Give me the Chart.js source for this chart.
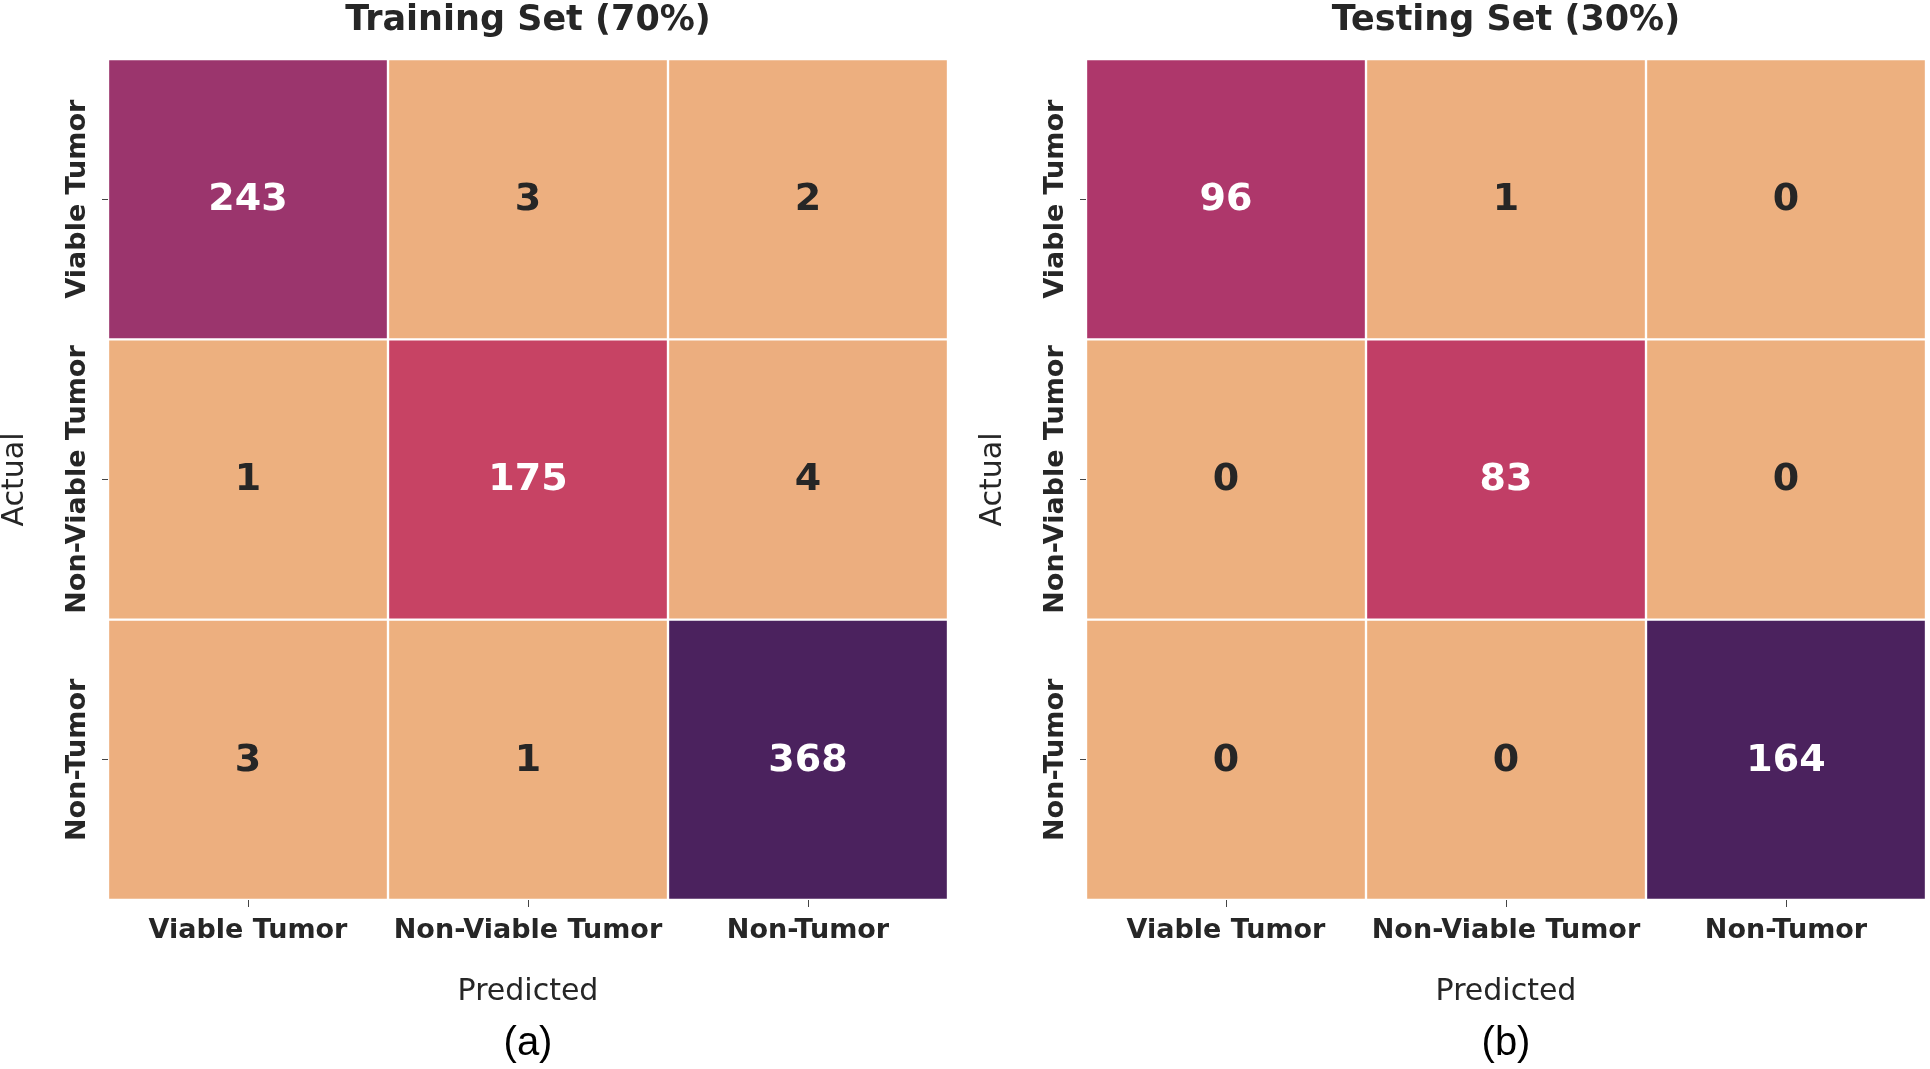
<!DOCTYPE html>
<html>
<head>
<meta charset="utf-8">
<script src="https://cdn.jsdelivr.net/npm/chart.js@4.4.0/dist/chart.umd.min.js"></script>
<style>
body { margin: 0; background: #fff; width: 1930px; height: 1069px; overflow: hidden; position: relative; }
canvas { position: absolute; top: 0; }
#trainChart { left: 0; }
#testChart { left: 978px; }
</style>
</head>
<body>
<canvas id="trainChart" width="952" height="1069"></canvas>
<canvas id="testChart" width="952" height="1069"></canvas>
<script>
// classes (same for actual rows and predicted columns)
var classes = ["Viable Tumor", "Non-Viable Tumor", "Non-Tumor"];

// confusion matrices, one row per actual class
var trainCounts = [
    [243, 3, 2],
    [1, 175, 4],
    [3, 1, 368]
];
var testCounts = [
    [96, 1, 0],
    [0, 83, 0],
    [0, 0, 164]
];

var trainTitle = "Training Set (70%)";
var testTitle = "Testing Set (30%)";

// seaborn "flare"-like colour map, light orange -> dark purple
var flareStops = [
    [0, [237, 176, 127]],
    [0.474, [199, 67, 100]],
    [0.506, [193, 62, 102]],
    [0.585, [174, 55, 107]],
    [0.659, [155, 53, 109]],
    [1, [75, 34, 94]]
];

function flare(t){
    for (var i = 1; i < flareStops.length; i++) {
        if (t <= flareStops[i][0]) {
            var a = flareStops[i-1], b = flareStops[i];
            var f = (t - a[0]) / (b[0] - a[0]);
            var c = a[1].map(function(v, k){ return Math.round(v + (b[1][k] - v) * f); });
            return c;
        }
    }
    return flareStops[flareStops.length-1][1];
}

function luminance(c){
    var l = c.map(function(v){
        v = v / 255;
        return v <= 0.03928 ? v / 12.92 : Math.pow((v + 0.055) / 1.055, 2.4);
    });
    return 0.2126 * l[0] + 0.7152 * l[1] + 0.0722 * l[2];
}

// numbers in the cells
var cellLabels = {
    id: 'cellLabels',
    afterDatasetsDraw: function(chart){
        var ctx = chart.ctx;
        ctx.save();
        ctx.font = 'bold 38px "DejaVu Sans"';
        ctx.textAlign = 'center';
        ctx.textBaseline = 'middle';
        chart.data.datasets.forEach(function(ds, i){
            var meta = chart.getDatasetMeta(i);
            meta.data.forEach(function(bar, j){
                var p = bar.getProps(['x', 'y', 'base'], true);
                ctx.fillStyle = ds.textColors[j];
                ctx.fillText(String(ds.counts[j]), p.x, (p.y + p.base) / 2 + 1);
            });
        });
        ctx.restore();
    }
};

// rotated tick labels for the actual-class axis
var yLabels = {
    id: 'yLabels',
    afterDraw: function(chart){
        var ys = chart.scales.y, ctx = chart.ctx;
        ctx.save();
        ctx.font = 'bold 27px "DejaVu Sans"';
        ctx.fillStyle = '#262626';
        ctx.textAlign = 'center';
        ctx.textBaseline = 'middle';
        ys.ticks.forEach(function(t){
            var py = ys.getPixelForValue(t.value);
            ctx.save();
            ctx.translate(chart.chartArea.left - 30, py);
            ctx.rotate(-Math.PI / 2);
            ctx.fillText(classes[Math.floor(t.value)], 0, 0);
            ctx.restore();
        });
        ctx.restore();
    }
};

function makeMatrix(canvasId, counts, title, sub){

    var all = [].concat.apply([], counts);
    var lo = Math.min.apply(null, all), hi = Math.max.apply(null, all);

    var datasets = counts.map(function(row, i){
        var cols = row.map(function(v){ return flare((v - lo) / (hi - lo)); });
        return {
            data: row.map(function(){ return [i, i + 1]; }),
            counts: row,
            backgroundColor: cols.map(function(c){ return 'rgb(' + c.join(',') + ')'; }),
            textColors: cols.map(function(c){ return luminance(c) > 0.408 ? '#262626' : '#ffffff'; }),
            borderColor: '#ffffff',
            borderWidth: 1.5,
            borderSkipped: false,
            barPercentage: 1,
            categoryPercentage: 1,
            grouped: false
        };
    });

    var ctx = document.getElementById(canvasId).getContext('2d');
    return new Chart(ctx, {
        type: 'bar',
        data: { labels: classes, datasets: datasets },
        options: {
            responsive: false,
            animation: false,
            layout: { padding: { left: 0, right: 4, top: 0, bottom: 0 } },
            plugins: {
                legend: { display: false },
                tooltip: { enabled: false },
                // fullSize false: the boxes take the matrix width, so text centres on it
                title: {
                    display: true, fullSize: false, text: title, color: '#262626',
                    font: { family: 'DejaVu Sans', size: 35, weight: 'bold', lineHeight: 1 },
                    padding: { top: 3, bottom: 21 }
                },
                subtitle: {
                    display: true, fullSize: false, position: 'bottom', text: sub, color: '#000000',
                    font: { family: 'Liberation Sans', size: 40, weight: 'normal', lineHeight: 1 },
                    padding: { top: 0, bottom: 5 }
                }
            },
            scales: {
                x: {
                    type: 'category',
                    offset: true,
                    grid: { offset: false, drawOnChartArea: false, drawTicks: true, tickLength: 7, color: '#444444' },
                    border: { display: false },
                    ticks: {
                        color: '#262626', padding: 8, maxRotation: 0, autoSkip: false,
                        font: { family: 'DejaVu Sans', size: 27, weight: 'bold' }
                    },
                    title: {
                        display: true, text: 'Predicted', color: '#262626',
                        font: { family: 'DejaVu Sans', size: 30, lineHeight: 1 },
                        padding: { top: 0, bottom: 17 }
                    },
                    afterFit: function(s){ s.height = 124; }
                },
                y: {
                    type: 'linear',
                    min: 0,
                    max: 3,
                    reverse: true,
                    afterBuildTicks: function(s){
                        s.ticks = classes.map(function(c, i){ return { value: i + 0.5 }; });
                    },
                    grid: { drawOnChartArea: false, drawTicks: true, tickLength: 6, color: '#444444' },
                    border: { display: false },
                    ticks: { display: false },
                    title: {
                        display: true, text: 'Actual', color: '#262626',
                        font: { family: 'DejaVu Sans', size: 30, lineHeight: 1 },
                        padding: { top: 0, bottom: 0 }
                    },
                    afterFit: function(s){ s.width = 108; }
                }
            }
        },
        plugins: [cellLabels, yLabels]
    });
}

makeMatrix('trainChart', trainCounts, trainTitle, '(a)');
makeMatrix('testChart', testCounts, testTitle, '(b)');
</script>
</body>
</html>
